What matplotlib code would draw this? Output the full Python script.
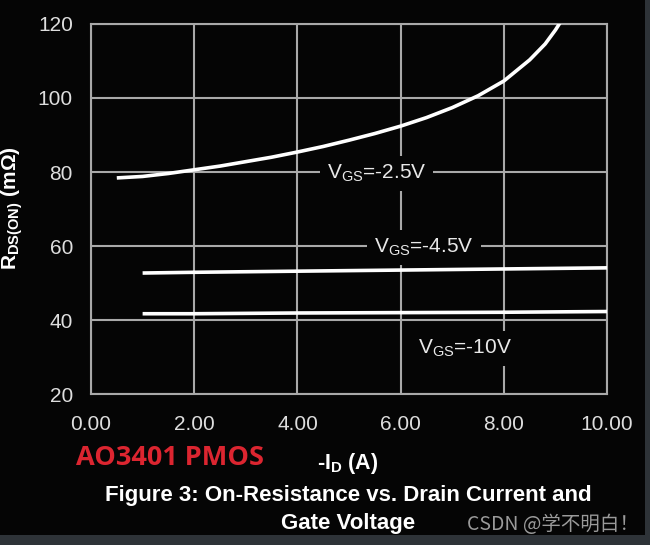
import matplotlib
matplotlib.use('Agg')
import matplotlib.pyplot as plt

plt.rcParams['font.family'] = ['Liberation Sans', 'DejaVu Sans']
plt.rcParams['mathtext.fontset'] = 'custom'
plt.rcParams['mathtext.rm'] = 'Liberation Sans'
plt.rcParams['mathtext.bf'] = 'Liberation Sans:bold'
plt.rcParams['mathtext.it'] = 'Liberation Sans:italic'

# curves
id_25 = [0.5, 1.0, 1.5, 2.0, 2.5, 3.0, 3.5, 4.0, 4.5, 5.0, 5.5, 6.0, 6.5, 7.0,
         7.5, 8.0, 8.5, 8.8, 9.0, 9.1]
r_25 = [78.4, 78.8, 79.6, 80.6, 81.6, 82.8, 84.0, 85.4, 86.9, 88.6, 90.4, 92.4,
        94.7, 97.4, 100.6, 104.6, 110.3, 114.6, 118.4, 120.6]
id_45 = [1, 2, 4, 6, 8, 10]
r_45 = [52.7, 52.9, 53.2, 53.5, 53.8, 54.1]
id_10 = [1, 2, 4, 6, 8, 10]
r_10 = [41.7, 41.7, 41.9, 42.0, 42.1, 42.3]

x_ticks = [0, 2, 4, 6, 8, 10]
x_labels = ['0.00', '2.00', '4.00', '6.00', '8.00', '10.00']
y_ticks = [20, 40, 60, 80, 100, 120]

bg = '#050505'
grid_c = '#a9a9a9'

fig = plt.figure(figsize=(6.5, 5.45), dpi=100, facecolor=bg)
ax = fig.add_axes([0.14, 0.277, 0.794, 0.679])
ax.set_facecolor(bg)

ax.plot(id_25, r_25, color='white', lw=2.6, solid_capstyle='butt', zorder=3)
ax.plot(id_45, r_45, color='white', lw=2.6, solid_capstyle='butt', zorder=3)
ax.plot(id_10, r_10, color='white', lw=2.6, solid_capstyle='butt', zorder=3)

ax.set_xlim(0, 10)
ax.set_ylim(20, 120)
ax.set_xticks(x_ticks, x_labels)
ax.set_yticks(y_ticks)
ax.grid(True, color=grid_c, lw=1.5)
ax.set_axisbelow(True)
for s in ax.spines.values():
    s.set_color(grid_c)
    s.set_linewidth(1.5)
ax.tick_params(length=0, labelsize=15, colors='#dedede')
ax.tick_params(axis='x', pad=15)
ax.tick_params(axis='y', pad=13)

box = dict(facecolor=bg, edgecolor='none', pad=5)
ax.text(5.53, 79.6, r'V$_{\mathrm{GS}}$=-2.5V', color='#e8e8e8', fontsize=15,
        ha='center', va='center', bbox=box, zorder=4)
ax.text(6.45, 59.7, r'V$_{\mathrm{GS}}$=-4.5V', color='#e8e8e8', fontsize=15,
        ha='center', va='center', bbox=box, zorder=4)
ax.text(7.24, 32.4, r'V$_{\mathrm{GS}}$=-10V', color='#e8e8e8', fontsize=15,
        ha='center', va='center', bbox=box, zorder=4)

fig.text(12 / 650, 1 - 208 / 545, r'R$_{\mathbf{DS(ON)}}$ (mΩ)', rotation=90,
         color='white', fontsize=15, fontweight='bold', ha='center', va='center')
fig.text(348 / 650, 1 - 463 / 545, r'-I$_{\mathbf{D}}$ (A)', color='white',
         fontsize=15.5, fontweight='bold', ha='center', va='center')
fig.text(170 / 650, 1 - 458 / 545, 'AO3401 PMOS', color='#dc2530', fontsize=19.5,
         fontweight='bold', family=['Open Sans', 'DejaVu Sans'], ha='center', va='center')
fig.text(348 / 650, 1 - 495 / 545, 'Figure 3: On-Resistance vs. Drain Current and',
         color='white', fontsize=16, fontweight='bold', ha='center', va='center')
fig.text(348 / 650, 1 - 524 / 545, 'Gate Voltage',
         color='white', fontsize=16, fontweight='bold', ha='center', va='center')
fig.text(553 / 650, 1 - 524 / 545, 'CSDN @学不明白！', color='#9a9a9a', fontsize=14,
         family=['Noto Sans CJK SC', 'DejaVu Sans'], ha='center', va='center')

# dark frame strips at right and bottom edges
fig.patches.append(plt.Rectangle((0, 0), 1, 10 / 545, transform=fig.transFigure,
                                 facecolor='#2e3338', edgecolor='none', zorder=5))
fig.patches.append(plt.Rectangle((645 / 650, 0), 5 / 650, 1, transform=fig.transFigure,
                                 facecolor='#2e3338', edgecolor='none', zorder=5))

fig.savefig('out.png', dpi=100, facecolor=bg)
